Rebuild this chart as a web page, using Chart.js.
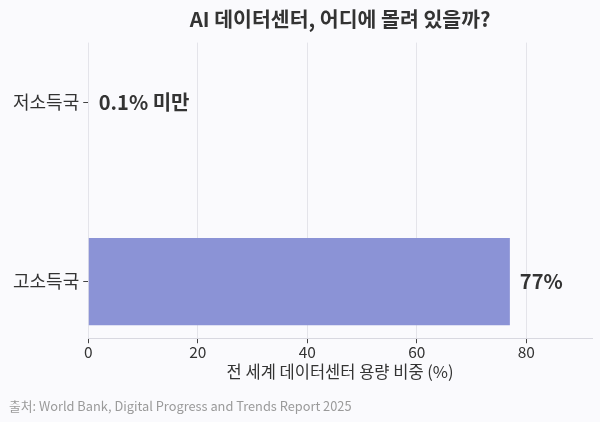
<!DOCTYPE html>
<html><head><meta charset="utf-8">
<script src="https://cdn.jsdelivr.net/npm/chart.js@4.4.1/dist/chart.umd.min.js"></script>
<style>
html,body{margin:0;padding:0;background:#fafafd;}
#wrap{width:600px;height:422px;}
</style></head>
<body><div id="wrap"><canvas id="c" width="600" height="422"></canvas></div>
<script>
const categories = ['저소득국', '고소득국'];
const values = [0.1, 77];
const valueLabels = ['0.1% 미만', '77%'];
const barColors = ['#ffffff', '#8b93d6'];
const xTicks = [0, 20, 40, 60, 80];

const FONT = "'Noto Sans CJK KR', 'Noto Sans', sans-serif";

const labelPlugin = {
  id: 'valueLabels',
  afterDatasetsDraw(chart) {
    const ctx = chart.ctx;
    const meta = chart.getDatasetMeta(0);
    ctx.save();
    ctx.font = "bold 20px " + FONT;
    ctx.fillStyle = '#333333';
    ctx.textBaseline = 'middle';
    ctx.textAlign = 'left';
    meta.data.forEach((bar, i) => {
      ctx.fillText(valueLabels[i], bar.x + 10, bar.y);
    });
    ctx.restore();
  }
};

new Chart(document.getElementById('c'), {
  type: 'bar',
  data: {
    datasets: [{
      data: categories.map((c, i) => ({ x: values[i], y: i })),
      backgroundColor: barColors,
      borderWidth: 0,
      categoryPercentage: 1,
      barPercentage: 0.486
    }]
  },
  options: {
    indexAxis: 'y',
    responsive: false,
    animation: false,
    devicePixelRatio: 1,
    layout: { padding: { left: 9, right: 8, top: 0, bottom: 8 } },
    plugins: {
      legend: { display: false },
      tooltip: { enabled: false },
      title: {
        display: true,
        text: 'AI 데이터센터, 어디에 몰려 있을까?',
        fullSize: false,
        color: '#333333',
        font: { family: FONT, size: 20.5, weight: 'bold' },
        padding: { top: 7, bottom: 11 }
      },
      subtitle: {
        display: true,
        position: 'bottom',
        align: 'start',
        text: '출처: World Bank, Digital Progress and Trends Report 2025',
        color: '#9a9a9a',
        font: { family: FONT, size: 12.8 },
        padding: { top: 17, bottom: 0 }
      }
    },
    scales: {
      x: {
        type: 'linear',
        min: 0,
        max: 92,
        afterBuildTicks(scale) { scale.ticks = xTicks.map(v => ({ value: v })); },
        grid: { color: '#e4e4ea', drawTicks: true, tickLength: 5, tickColor: '#444' },
        border: { display: true, color: '#d8d8e0' },
        ticks: { color: '#333333', font: { family: FONT, size: 15.5 }, padding: 0 },
        title: {
          display: true,
          text: '전 세계 데이터센터 용량 비중 (%)',
          color: '#333333',
          font: { family: FONT, size: 16.5 },
          padding: { top: 0, bottom: 0 }
        }
      },
      y: {
        type: 'linear',
        reverse: true,
        offset: false,
        min: -0.333,
        max: 1.316,
        afterBuildTicks(scale) { scale.ticks = categories.map((c, i) => ({ value: i })); },
        grid: { offset: false, drawOnChartArea: false, drawTicks: true, tickLength: 5, tickColor: '#444' },
        border: { display: false },
        ticks: {
          color: '#333333',
          font: { family: FONT, size: 18 },
          padding: 4,
          callback: (v) => categories[v]
        }
      }
    }
  },
  plugins: [labelPlugin]
});
</script>
</body></html>
